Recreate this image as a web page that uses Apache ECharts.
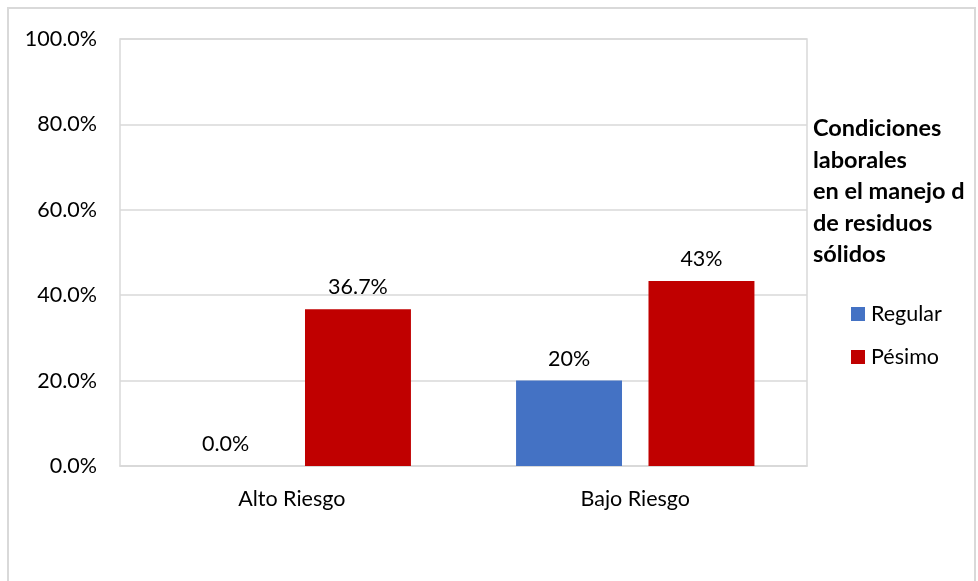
<!DOCTYPE html>
<html>
<head>
<meta charset="utf-8">
<script src="https://cdn.jsdelivr.net/npm/echarts@6/dist/echarts.min.js"></script>
<style>
html,body{margin:0;padding:0;background:#fff;}
#chart{width:978px;height:581px;}
</style>
</head>
<body>
<div id="chart"></div>
<script>
var categories = ['Alto Riesgo', 'Bajo Riesgo'];
var seriesNames = ['Regular', 'Pésimo'];
var regularValues = [0.0, 20.0];
var pesimoValues = [36.7, 43.3];
var regularLabels = ['0.0%', '20%'];
var pesimoLabels = ['36.7%', '43%'];
var yTicks = [0, 20, 40, 60, 80, 100];
var legendTitle = 'Condiciones\nlaborales\nen el manejo d\nde residuos\nsólidos';

var FONT = 'Lato, "Liberation Sans", sans-serif';
var chart = echarts.init(document.getElementById('chart'), null, {renderer: 'canvas'});

function mkLabel(labels) {
  return {
    show: true,
    position: 'top',
    distance: 11,
    color: '#000',
    fontFamily: FONT,
    fontSize: 21.5,
    formatter: function (p) { return labels[p.dataIndex]; }
  };
}

chart.setOption({
  animation: false,
  backgroundColor: '#fff',
  graphic: [{
    type: 'rect',
    shape: {x: 8, y: 8, width: 967, height: 590},
    style: {fill: 'none', stroke: '#d9d9d9', lineWidth: 2},
    silent: true
  }],
  title: {
    text: legendTitle,
    left: 808,
    top: 108,
    textStyle: {
      fontFamily: FONT,
      fontSize: 23.5,
      fontWeight: 'bold',
      color: '#000',
      lineHeight: 31.5
    }
  },
  legend: {
    orient: 'vertical',
    left: 846,
    top: 298,
    itemWidth: 14,
    itemHeight: 14,
    itemGap: 21,
    icon: 'rect',
    data: seriesNames,
    textStyle: {fontFamily: FONT, fontSize: 21.5, color: '#000', padding: [0, 0, 0, 1]}
  },
  grid: {
    left: 120,
    top: 39,
    width: 687,
    height: 427,
    show: true,
    borderColor: '#d9d9d9',
    borderWidth: 1.5,
    containLabel: false
  },
  xAxis: {
    type: 'category',
    data: categories,
    axisLine: {show: true, lineStyle: {color: '#d9d9d9', width: 1.5}},
    axisTick: {show: false},
    axisLabel: {margin: 22, color: '#000', fontFamily: FONT, fontSize: 21.5}
  },
  yAxis: {
    type: 'value',
    min: yTicks[0],
    max: yTicks[yTicks.length - 1],
    interval: 20,
    axisLine: {show: false},
    axisTick: {show: false},
    splitLine: {lineStyle: {color: '#d9d9d9', width: 1.5}},
    axisLabel: {
      margin: 23,
      color: '#000',
      fontFamily: FONT,
      fontSize: 21.5,
      formatter: function (v) { return v.toFixed(1) + '%'; }
    }
  },
  series: [{
    name: seriesNames[0],
    type: 'bar',
    data: regularValues,
    itemStyle: {color: '#4472C4'},
    barGap: '25%',
    barCategoryGap: '30.6%',
    label: mkLabel(regularLabels)
  }, {
    name: seriesNames[1],
    type: 'bar',
    data: pesimoValues,
    itemStyle: {color: '#C00000'},
    barGap: '25%',
    barCategoryGap: '30.6%',
    label: mkLabel(pesimoLabels)
  }]
});
</script>
</body>
</html>
